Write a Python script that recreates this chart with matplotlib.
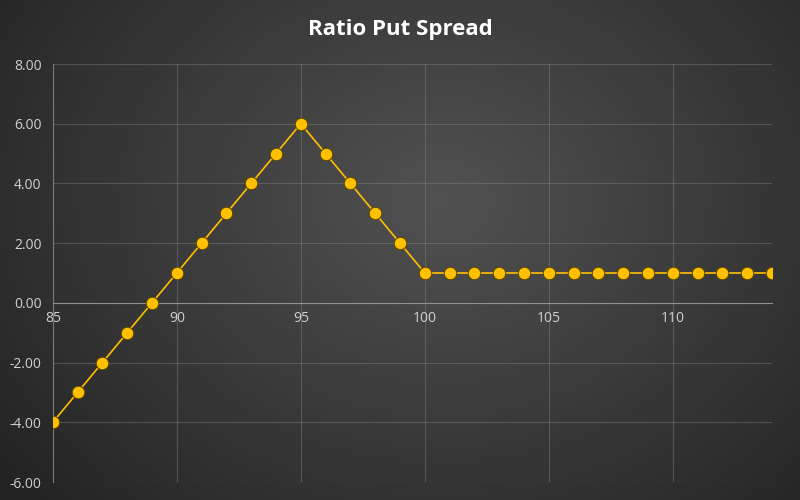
import numpy as np
import matplotlib.pyplot as plt

# data
strikes = list(range(85, 115))
payoff = [-4, -3, -2, -1, 0, 1, 2, 3, 4, 5, 6, 5, 4, 3, 2,
          1, 1, 1, 1, 1, 1, 1, 1, 1, 1, 1, 1, 1, 1, 1]
xticks = [85, 90, 95, 100, 105, 110]
yticks = [-6, -4, -2, 0, 2, 4, 6, 8]

fig = plt.figure(figsize=(8, 5), dpi=100)

# radial gradient background
bg = fig.add_axes([0, 0, 1, 1])
yy, xx = np.mgrid[0:500, 0:800]
r = np.sqrt(((xx - 440) / 520.0) ** 2 + ((yy - 200) / 420.0) ** 2)
shade = np.clip(0.32 - 0.17 * r, 0.13, 0.34)
bg.imshow(np.dstack([shade, shade, shade]), aspect='auto', extent=[0, 1, 0, 1])
bg.axis('off')

ax = fig.add_axes([0.066, 0.036, 0.899, 0.836])
ax.patch.set_alpha(0)
ax.plot(strikes, payoff, color='#FFC000', lw=1.2, zorder=3,
        marker='o', markersize=9, markerfacecolor='#FFC000',
        markeredgecolor='#5a4500', markeredgewidth=0.7)

ax.set_xlim(85, 114)
ax.set_ylim(-6, 8)
ax.set_xticks(xticks)
ax.set_yticks(yticks)
ax.set_yticklabels(['%.2f' % v for v in yticks])
ax.grid(True, color='#8a8a8a', lw=0.8, alpha=0.4)
ax.set_axisbelow(True)

for s in ['top', 'right']:
    ax.spines[s].set_visible(False)
ax.spines['left'].set_color('#7a7a7a')
ax.spines['bottom'].set_position(('data', 0))
ax.spines['bottom'].set_color('#8f8f8f')
ax.tick_params(length=0, colors='#d0d0d0', labelsize=10)
ax.tick_params(axis='x', pad=6)
ax.tick_params(axis='y', pad=8)
for lab in ax.get_xticklabels() + ax.get_yticklabels():
    lab.set_fontfamily('Open Sans')

fig.text(0.5, 0.94, 'Ratio Put Spread', color='white', fontsize=16,
         fontweight='bold', ha='center', va='center', family='Open Sans')

fig.savefig('out.png', dpi=100)
